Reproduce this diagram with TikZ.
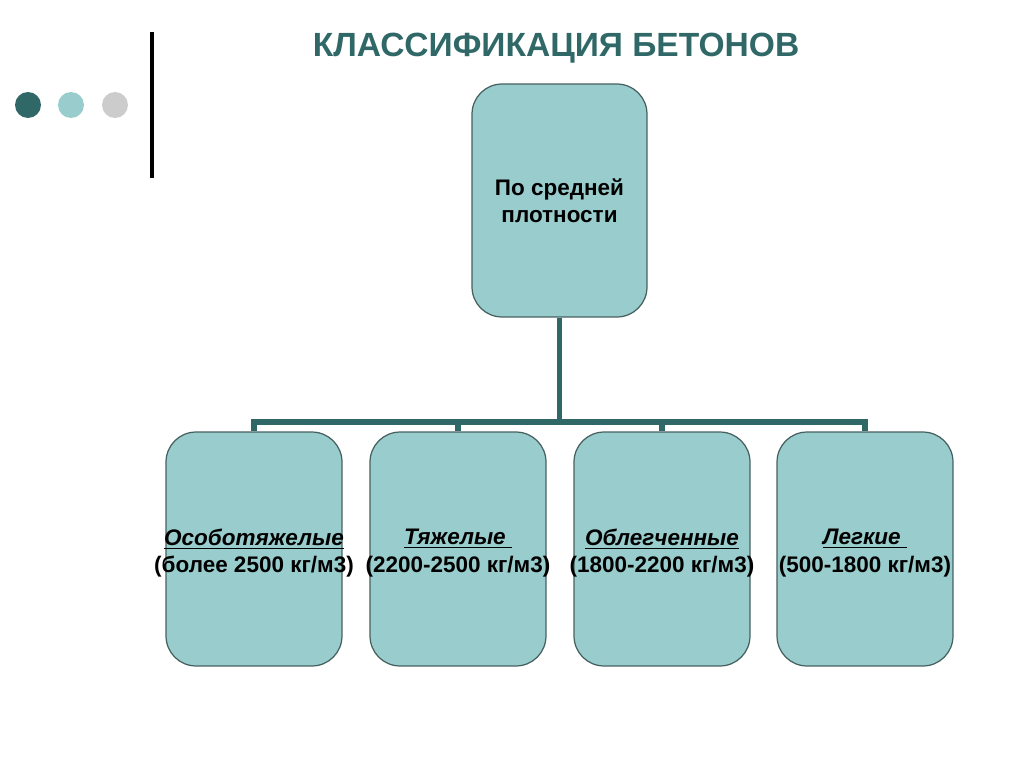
\documentclass[tikz,border=0pt]{standalone}
\usepackage{fontspec}
\setmainfont{Liberation Sans}
\usepackage{xcolor}
\usepackage{tikz}
\usetikzlibrary{positioning}
\definecolor{darkteal}{RGB}{48,104,104}
\definecolor{lightteal}{RGB}{153,204,204}
\definecolor{lightgray}{RGB}{204,204,204}
\definecolor{boxline}{RGB}{70,96,96}
\tikzset{
  densbox/.style={draw=boxline,line width=0.7pt,fill=lightteal,rounded corners=0.6cm,
    minimum width=3.52cm,minimum height=4.68cm,inner sep=0pt},
  boxtext/.style={align=center,font=\bfseries\fontsize{12.8}{15.6}\selectfont,inner sep=0pt},
  conn/.style={darkteal,line width=3.4pt}
}
\begin{document}
\begin{tikzpicture}[x=0.02cm,y=-0.02cm]
      \useasboundingbox (0,0) rectangle (1024,767);
      \foreach \c/\x in {darkteal/28,lightteal/71,lightgray/115}
        \fill[\c] (\x,105) circle (13);
      \draw[line width=2.3pt] (152,32) -- (152,178);
      \node[anchor=base,darkteal,font=\bfseries\fontsize{19.1}{22}\selectfont] (title) at (556,57) {КЛАССИФИКАЦИЯ БЕТОНОВ};
      \node[densbox,minimum width=3.5cm,minimum height=4.66cm] (top) at (559.5,200.5) {};
      \node[boxtext] (toptext) at (top.center) {По средней\\плотности};
      \foreach \n/\x in {b1/254,b2/458,b3/662,b4/865}
        \node[densbox] (\n) at (\x,549) {};
      \node[boxtext] (t1) at ([yshift=-0.08cm]b1.center) {\underline{\itshape Особотяжелые}\\(более 2500 кг/м3)};
      \node[boxtext] (t2) at ([yshift=-0.08cm]b2.center) {\underline{\itshape Тяжелые\ }\\(2200-2500 кг/м3)};
      \node[boxtext] (t3) at ([yshift=-0.08cm]b3.center) {\underline{\itshape Облегченные}\\(1800-2200 кг/м3)};
      \node[boxtext] (t4) at ([yshift=-0.08cm]b4.center) {\underline{\itshape Легкие\ }\\(500-1800 кг/м3)};
      \coordinate (bar) at (559.5,422);
      \draw[conn] (top.south) -- (bar);
      \draw[conn,line cap=rect] (b1.north |- bar) -- (b4.north |- bar);
      \foreach \n in {b1,b2,b3,b4}
        \draw[conn] (\n.north |- bar) -- (\n.north);
    \end{tikzpicture}
\end{document}
